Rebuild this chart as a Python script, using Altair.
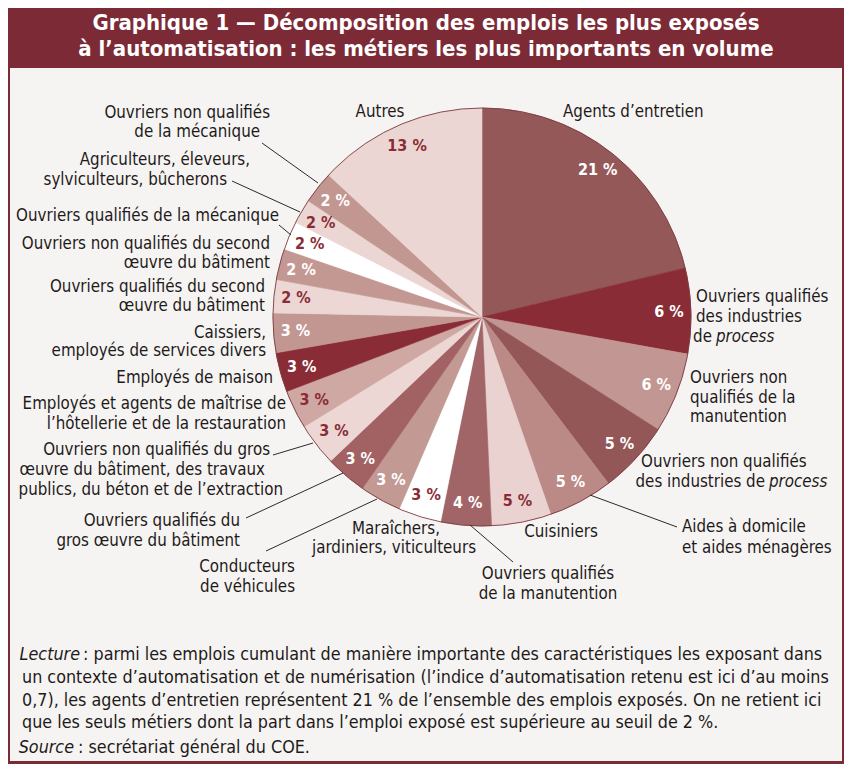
import math
import altair as alt
import pandas as pd

# ---------------- data ----------------
CATEGORIES = [
    "Agents d’entretien",
    "Ouvriers qualifiés des industries de process",
    "Ouvriers non qualifiés de la manutention",
    "Ouvriers non qualifiés des industries de process",
    "Aides à domicile et aides ménagères",
    "Cuisiniers",
    "Ouvriers qualifiés de la manutention",
    "Maraîchers, jardiniers, viticulteurs",
    "Conducteurs de véhicules",
    "Ouvriers qualifiés du gros œuvre du bâtiment",
    "Ouvriers non qualifiés du gros œuvre du bâtiment, des travaux publics, du béton et de l’extraction",
    "Employés et agents de maîtrise de l’hôtellerie et de la restauration",
    "Employés de maison",
    "Caissiers, employés de services divers",
    "Ouvriers qualifiés du second œuvre du bâtiment",
    "Ouvriers non qualifiés du second œuvre du bâtiment",
    "Ouvriers qualifiés de la mécanique",
    "Agriculteurs, éleveurs, sylviculteurs, bûcherons",
    "Ouvriers non qualifiés de la mécanique",
    "Autres",
]
SHARES = [21.2, 6.6, 6.2, 5.6, 5.0, 4.6, 3.9, 3.3, 3.2, 3.2, 3.3, 3.0, 3.05, 3.05,
          2.55, 2.4, 2.2, 1.9, 2.5, 13.1]
PCT_LABELS = [21, 6, 6, 5, 5, 5, 4, 3, 3, 3, 3, 3, 3, 3, 2, 2, 2, 2, 2, 13]

TITLE_LINES = [
    "Graphique 1 — Décomposition des emplois les plus exposés",
    "à l’automatisation : les métiers les plus importants en volume",
]

# outside label lines (text)
LABEL_TEXT = [
    "Agents d’entretien", "Autres",
    "Ouvriers non qualifiés", "de la mécanique",
    "Agriculteurs, éleveurs,", "sylviculteurs, bûcherons",
    "Ouvriers qualifiés de la mécanique",
    "Ouvriers non qualifiés du second", "œuvre du bâtiment",
    "Ouvriers qualifiés du second", "œuvre du bâtiment",
    "Caissiers,", "employés de services divers",
    "Employés de maison",
    "Employés et agents de maîtrise de", "l’hôtellerie et de la restauration",
    "Ouvriers non qualifiés du gros", "œuvre du bâtiment, des travaux",
    "publics, du béton et de l’extraction",
    "Ouvriers qualifiés du", "gros œuvre du bâtiment",
    "Conducteurs", "de véhicules",
    "Maraîchers,", "jardiniers, viticulteurs",
    "Ouvriers qualifiés", "de la manutention",
    "Cuisiniers",
    "Aides à domicile", "et aides ménagères",
    "Ouvriers non qualifiés", "des industries de", "process",
    "Ouvriers non", "qualifiés de la", "manutention",
    "Ouvriers qualifiés", "des industries", "de", "process",
]

FOOTER_ITALIC = ["Lecture", "Source"]
FOOTER_LINES = [
    ": parmi les emplois cumulant de manière importante des caractéristiques les exposant dans",
    "un contexte d’automatisation et de numérisation (l’indice d’automatisation retenu est ici d’au moins",
    "0,7), les agents d’entretien représentent 21 % de l’ensemble des emplois exposés. On ne retient ici",
    "que les seuls métiers dont la part dans l’emploi exposé est supérieure au seuil de 2 %.",
    ": secrétariat général du COE.",
]

# ---------------- layout / style ----------------
OFF = 8                      # page margin: reference coords -> chart coords
W, H = 836, 756
FONT = "Liberation Sans Narrow, DejaVu Sans Condensed, sans-serif"
DARK = "#7c2a35"
PANEL = "#f5f4f2"
INK = "#1f1a1a"

CX, CY, R = 482, 317, 209
R_PCT = 187

SLICE_COLORS = ["#955859", "#8a2c35", "#c29793", "#945758", "#bb8a86", "#e9d2d0",
                "#a26567", "#ffffff", "#c39994", "#a26264", "#ecd7d5", "#cfa7a3",
                "#8a2c35", "#c29792", "#ecd7d5", "#c39893", "#ffffff", "#ecd6d4",
                "#c29691", "#ecd6d4"]
PCT_COLORS = ["white", "white", "white", "white", "white", "#8a2c35", "white", "#8a2c35",
              "white", "white", "#8a2c35", "#8a2c35", "white", "white", "#8a2c35",
              "white", "#8a2c35", "#8a2c35", "white", "#8a2c35"]

LABEL_X = [563, 380,
           270, 260,
           250, 227,
           279,
           270, 270,
           265, 265,
           266, 266,
           273,
           286, 286,
           270, 265, 283,
           240, 240,
           295, 295,
           396, 394,
           548, 548,
           561,
           682, 682,
           641, 765, 769,
           690, 690, 690,
           696, 696, 712, 716]
LABEL_Y = [112, 112,
           113, 132,
           160, 180,
           216,
           244, 263,
           287, 306,
           333, 351,
           378,
           404, 424,
           450, 470, 490,
           521, 541,
           567, 587,
           529, 548,
           574, 594,
           532,
           527, 548,
           462, 482, 482,
           378, 398, 417,
           297, 317, 337, 337]
LABEL_ALIGN = (["left", "center"] + ["right"] * 21 + ["center"] * 5 + ["left"] * 2
               + ["left", "right", "left"] + ["left"] * 3 + ["left", "left", "right", "left"])
LABEL_ITALIC = [False] * len(LABEL_TEXT)
LABEL_ITALIC[32] = True
LABEL_ITALIC[39] = True

LEADER_X1 = [262, 232, 279, 273, 246, 266, 513, 677]
LEADER_Y1 = [143, 181, 225, 455, 518, 551, 562, 527]
LEADER_X2 = [318, 300, 291, 313, 343, 377, 470, 590]
LEADER_Y2 = [183, 212, 235, 443, 473, 499, 525, 495]

FOOT_X_ITALIC = [80, 74]
FOOT_X = [83, 22, 22, 22, 78]
FOOT_Y = [655, 678, 701, 723, 748]

# ---------------- frames ----------------
pie_df = pd.DataFrame({
    "idx": list(range(len(CATEGORIES))),
    "cat": CATEGORIES,
    "share": SHARES,
    "pct": [f"{p} %" for p in PCT_LABELS],
    "fill": SLICE_COLORS,
    "tcol": PCT_COLORS,
})

lab_df = pd.DataFrame({
    "t": LABEL_TEXT,
    "x": [v - OFF for v in LABEL_X],
    "y": [v - OFF for v in LABEL_Y],
    "align": LABEL_ALIGN,
    "italic": LABEL_ITALIC,
})

lead_df = pd.DataFrame({
    "x1": [v - OFF for v in LEADER_X1], "y1": [v - OFF for v in LEADER_Y1],
    "x2": [v - OFF for v in LEADER_X2], "y2": [v - OFF for v in LEADER_Y2],
})

foot_df = pd.DataFrame({
    "t": FOOTER_LINES,
    "x": [v - OFF for v in FOOT_X],
    "y": [v - OFF for v in FOOT_Y],
})
foot_it_df = pd.DataFrame({
    "t": FOOTER_ITALIC,
    "x": [v - OFF for v in FOOT_X_ITALIC],
    "y": [FOOT_Y[0] - OFF, FOOT_Y[4] - OFF],
})
title_df = pd.DataFrame({"t": TITLE_LINES, "y": [23 - OFF, 49 - OFF]})
one = pd.DataFrame({"a": [0]})

# ---------------- layers ----------------
frame = alt.Chart(one).mark_rect(color=DARK).encode(
    x=alt.value(0), x2=alt.value(W), y=alt.value(0), y2=alt.value(H))
panel = alt.Chart(one).mark_rect(color=PANEL).encode(
    x=alt.value(2), x2=alt.value(W - 2), y=alt.value(68 - OFF), y2=alt.value(H - 3))

title = alt.Chart(title_df).mark_text(
    font=FONT, fontSize=22, fontWeight="bold", color="white", align="center", baseline="middle"
).encode(x=alt.value(426 - OFF), y=alt.Y("y:Q", scale=None), text="t:N")

base = alt.Chart(pie_df).encode(
    theta=alt.Theta("share:Q", stack=True),
    order=alt.Order("idx:Q"),
)
arcs = base.mark_arc(outerRadius=R, strokeWidth=0.6).encode(
    x=alt.value(CX - OFF), y=alt.value(CY - OFF),
    color=alt.Color("fill:N", scale=None),
    stroke=alt.Stroke("fill:N", scale=None),
)
pct = base.mark_text(radius=R_PCT, font=FONT, fontSize=16, fontWeight="bold",
                     align="center", baseline="middle").encode(
    x=alt.value(CX - OFF), y=alt.value(CY - OFF),
    text="pct:N",
    color=alt.Color("tcol:N", scale=None),
)
outline = alt.Chart(one).mark_arc(
    outerRadius=R, theta=0, theta2=2 * math.pi, fillOpacity=0, stroke="#7a3a40", strokeWidth=0.9
).encode(x=alt.value(CX - OFF), y=alt.value(CY - OFF))

leaders = alt.Chart(lead_df).mark_rule(color="#2a2a2a", strokeWidth=1).encode(
    x=alt.X("x1:Q", scale=None), y=alt.Y("y1:Q", scale=None),
    x2="x2:Q", y2="y2:Q")


def text_layer(df, align, italic, size=16.8):
    sub = df[(df["align"] == align) & (df["italic"] == italic)]
    return alt.Chart(sub).mark_text(
        font=FONT, fontSize=size, color=INK, align=align, baseline="middle",
        fontStyle="italic" if italic else "normal",
    ).encode(x=alt.X("x:Q", scale=None), y=alt.Y("y:Q", scale=None), text="t:N")


labels = [text_layer(lab_df, a, i) for a in ["left", "right", "center"] for i in [False, True]
          if len(lab_df[(lab_df["align"] == a) & (lab_df["italic"] == i)])]

foot = alt.Chart(foot_df).mark_text(
    font=FONT, fontSize=17.8, color=INK, align="left", baseline="middle"
).encode(x=alt.X("x:Q", scale=None), y=alt.Y("y:Q", scale=None), text="t:N")
foot_it = alt.Chart(foot_it_df).mark_text(
    font=FONT, fontSize=17.8, color=INK, align="right", baseline="middle", fontStyle="italic"
).encode(x=alt.X("x:Q", scale=None), y=alt.Y("y:Q", scale=None), text="t:N")

chart = alt.layer(
    frame, panel, title, arcs, outline, pct, leaders, *labels, foot, foot_it
).properties(
    width=W, height=H, padding=0, autosize=alt.AutoSizeParams(type="none")
).resolve_scale(color="independent").configure_view(stroke=None)

chart.save("out.html", embed_options={"renderer": "svg", "actions": False})
